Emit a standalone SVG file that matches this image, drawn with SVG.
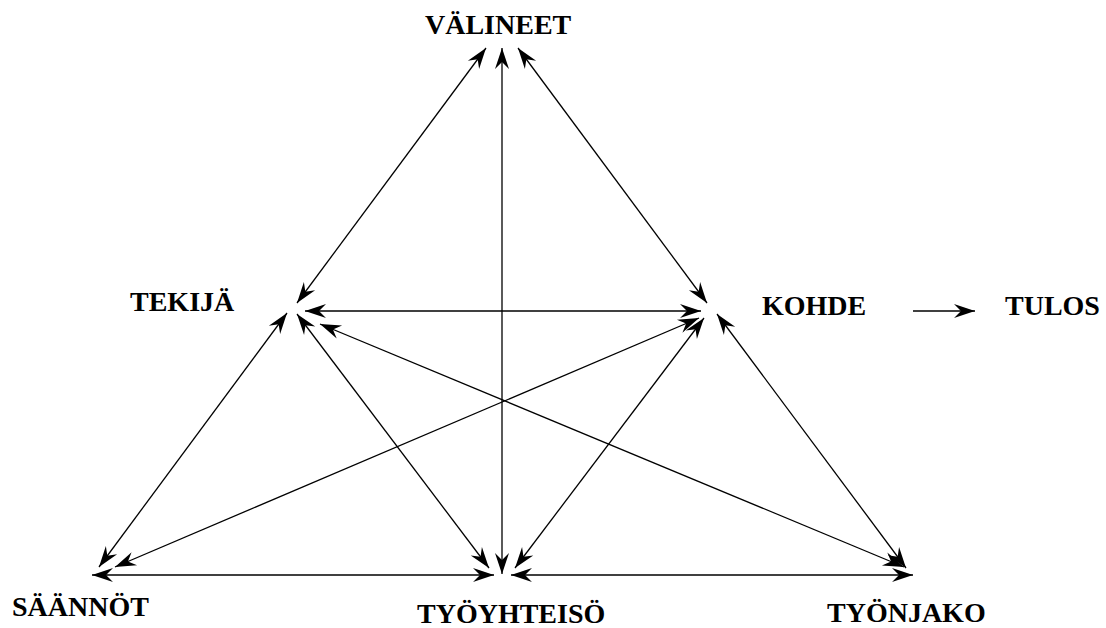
<svg xmlns="http://www.w3.org/2000/svg" width="1106" height="628" viewBox="0 0 1106 628">
<style>
.lbl{font-family:"Liberation Serif","Times New Roman",serif;font-weight:bold;font-size:28px;fill:#000}
.c line{stroke:#000;stroke-width:1.3;fill:none;marker-start:url(#ah);marker-end:url(#ah)}
.c line.one{marker-start:none}
</style>
<defs>
<marker id="ah" markerUnits="userSpaceOnUse" markerWidth="24" markerHeight="16" viewBox="-22 -8 24 16" refX="0" refY="0" orient="auto-start-reverse" overflow="visible">
<path d="M0,0 L-21,-7 L-14,0 L-21,7 Z" fill="#000"/>
</marker>
</defs>
<rect width="1106" height="628" fill="#fff"/>
<g id="connectors" class="c">
<line x1="297" y1="303" x2="486" y2="48"/>
<line x1="518" y1="48" x2="707" y2="303"/>
<line x1="502" y1="48" x2="502" y2="574"/>
<line x1="305" y1="311" x2="701" y2="311"/>
<line x1="287" y1="313" x2="99" y2="567"/>
<line x1="297" y1="314" x2="489" y2="568"/>
<line x1="320" y1="324" x2="904" y2="567"/>
<line x1="699" y1="318" x2="115" y2="567"/>
<line x1="704" y1="318" x2="515" y2="568"/>
<line x1="717" y1="314" x2="906" y2="568"/>
<line x1="92" y1="575" x2="494" y2="575"/>
<line x1="511" y1="575" x2="913" y2="575"/>
<line class="one" x1="913" y1="311" x2="975" y2="311"/>
</g>
<g id="valineet"><text class="lbl" x="425" y="34">VÄLINEET</text></g>
<g id="tekija"><text class="lbl" x="130" y="311">TEKIJÄ</text></g>
<g id="kohde"><text class="lbl" x="762" y="315">KOHDE</text></g>
<g id="tulos"><text class="lbl" x="1005" y="315">TULOS</text></g>
<g id="saannot"><text class="lbl" x="12" y="616">SÄÄNNÖT</text></g>
<g id="tyoyhteiso"><text class="lbl" x="417" y="623">TYÖYHTEISÖ</text></g>
<g id="tyonjako"><text class="lbl" x="827" y="622">TYÖNJAKO</text></g>
</svg>
